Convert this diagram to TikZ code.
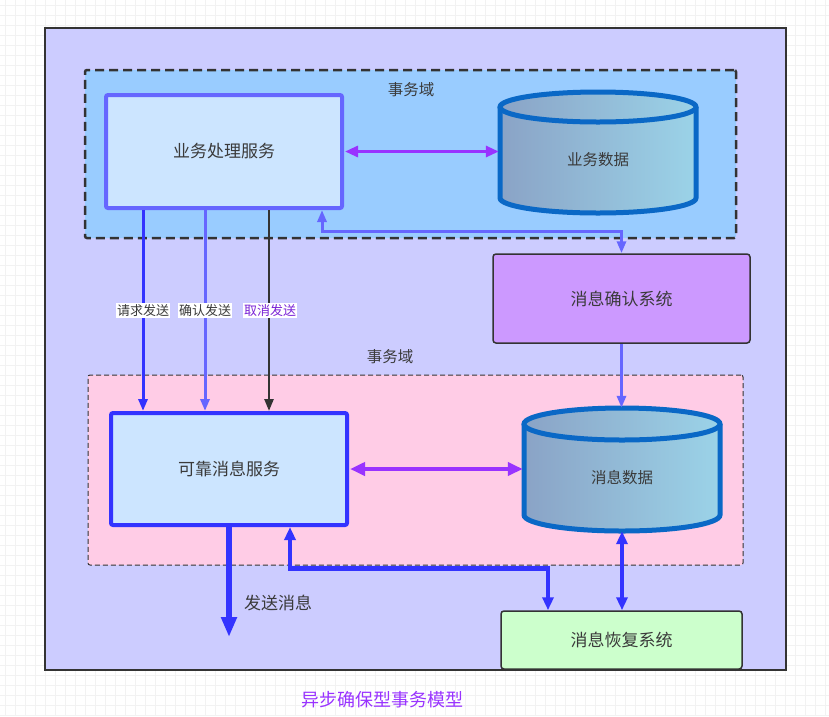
\documentclass[tikz,border=0pt]{standalone}
\usepackage{fontspec}
\setmainfont{Noto Sans CJK SC}
\usetikzlibrary{arrows.meta,calc}
\definecolor{gridc}{HTML}{F2F2F2}
\definecolor{outerfill}{HTML}{CCCCFF}
\definecolor{topdom}{HTML}{99CCFF}
\definecolor{botdom}{HTML}{FFCCE6}
\definecolor{boxfill}{HTML}{CCE5FF}
\definecolor{lblue}{HTML}{6666FF}
\definecolor{dblue}{HTML}{3333FF}
\definecolor{purp}{HTML}{9933FF}
\definecolor{dark}{HTML}{333333}
\definecolor{txt}{HTML}{3A3A3A}
\definecolor{confirmfill}{HTML}{CC99FF}
\definecolor{recoverfill}{HTML}{CCFFCC}
\definecolor{cylborder}{HTML}{0A68C6}
\definecolor{cylleft}{HTML}{8AA3C6}
\definecolor{cylright}{HTML}{9BD3E8}
\definecolor{cancelc}{HTML}{7A22D6}
\tikzset{
  bigtxt/.style={font=\fontsize{17}{20}\selectfont, text=txt},
  midtxt/.style={font=\fontsize{15.5}{18}\selectfont, text=txt},
  smalltxt/.style={font=\fontsize{13}{15}\selectfont, text=txt},
  svcbox/.style={draw, fill=boxfill, line width=4pt, rounded corners=2pt, inner sep=0pt, bigtxt},
  sysbox/.style={draw=dark, line width=1.5pt, rounded corners=3pt, inner sep=0pt, bigtxt},
  lbl/.style={fill=white, inner sep=1pt, smalltxt},
  tip/.style={-{Triangle[length=12pt,width=9pt]}},
  dtip/.style={{Triangle[length=12pt,width=9pt]}-{Triangle[length=12pt,width=9pt]}},
  ttip/.style={{Triangle[length=13pt,width=11pt]}-{Triangle[length=13pt,width=11pt]}},
  bigtip/.style={-{Triangle[length=20pt,width=15pt]}},
}
\begin{document}
\begin{tikzpicture}[x=1pt,y=-1pt]
\useasboundingbox (0,0) rectangle (829,716);
\fill[white] (0,0) rectangle (829,716);
\foreach \gx in {0,10,...,820} {\draw[gridc, line width=0.6pt] (\gx+5,0) -- (\gx+5,716);}
\foreach \gy in {0,10,...,710} {\draw[gridc, line width=0.6pt] (0,\gy+5) -- (829,\gy+5);}

% outer container
\node[draw=dark, fill=outerfill, line width=1.5pt, minimum width=741pt, minimum height=642pt, inner sep=0pt] (outer) at (415.5,349) {};

% transaction domains
\node[draw=dark, fill=topdom, line width=2.5pt, dash pattern=on 9pt off 5pt, rounded corners=2pt, minimum width=651pt, minimum height=168pt, inner sep=0pt] (dom1) at (410.5,154) {};
\node[midtxt] (dom1lbl) at (411,90) {事务域};
\node[draw=dark, fill=botdom, line width=1pt, dash pattern=on 5pt off 3pt, rounded corners=2pt, minimum width=655pt, minimum height=190pt, inner sep=0pt] (dom2) at (415.5,470) {};
\node[midtxt] (dom2lbl) at (390,357) {事务域};

% service boxes
\node[svcbox, draw=lblue, minimum width=236pt, minimum height=113pt] (b1) at (224,151.5) {业务处理服务};
\node[svcbox, draw=dblue, minimum width=236pt, minimum height=112pt] (b2) at (229,469) {可靠消息服务};

% system boxes
\node[sysbox, fill=confirmfill, minimum width=257pt, minimum height=89pt] (c1) at (621.5,298.5) {消息确认系统};
\node[sysbox, fill=recoverfill, minimum width=241pt, minimum height=58pt] (r1) at (621.5,640) {消息恢复系统};

% cylinder 1
\shade[left color=cylleft, right color=cylright] (500,107) -- (500,198) arc[start angle=180, end angle=360, x radius=98pt, y radius=15pt] -- (696,107) arc[start angle=0, end angle=180, x radius=98pt, y radius=15pt] -- cycle;
\draw[cylborder, line width=5pt] (500,107) -- (500,198) arc[start angle=180, end angle=360, x radius=98pt, y radius=15pt] -- (696,107);
\draw[cylborder, line width=5pt, left color=cylleft, right color=cylright] (598,107) ellipse[x radius=98pt, y radius=15pt];
\node[minimum width=196pt, minimum height=121pt, inner sep=0pt] (d1) at (598,152.5) {};
\node[midtxt] (d1t) at (598,160) {业务数据};

% cylinder 2
\shade[left color=cylleft, right color=cylright] (524,424) -- (524,515) arc[start angle=180, end angle=360, x radius=98pt, y radius=16pt] -- (720,424) arc[start angle=0, end angle=180, x radius=98pt, y radius=16pt] -- cycle;
\draw[cylborder, line width=5pt] (524,424) -- (524,515) arc[start angle=180, end angle=360, x radius=98pt, y radius=16pt] -- (720,424);
\draw[cylborder, line width=5pt, left color=cylleft, right color=cylright] (622,424) ellipse[x radius=98pt, y radius=16pt];
\node[minimum width=196pt, minimum height=123pt, inner sep=0pt] (d2) at (622,469.5) {};
\node[midtxt] (d2t) at (622,478) {消息数据};

% purple double arrows
\draw[purp, line width=3pt, ttip] ([xshift=1pt]b1.east) -- ([xshift=-1pt]b1.east -| d1.west);
\draw[purp, line width=4.5pt, {Triangle[length=15pt,width=13pt]}-{Triangle[length=15pt,width=13pt]}] ([xshift=1pt]b2.east) -- ([xshift=-1pt]b2.east -| d2.west);

% three request arrows
\draw[dblue, line width=3pt, tip] ([xshift=-81pt]b1.south) -- ([xshift=-81pt]b1.south |- b2.north) node[lbl, pos=0.5] {请求发送};
\draw[lblue, line width=3pt, tip] ([xshift=-19pt]b1.south) -- ([xshift=-19pt]b1.south |- b2.north) node[lbl, pos=0.5] {确认发送};
\draw[dark, line width=2.5pt, tip] ([xshift=45pt]b1.south) -- ([xshift=45pt]b1.south |- b2.north) node[lbl, pos=0.5, text=cancelc, xshift=1pt] {取消发送};

% confirm system connections
\draw[lblue, line width=3pt, dtip] (c1.north) -- ++(0,-22) -| ([xshift=98pt]b1.south);
\draw[lblue, line width=3pt, tip] (c1.south) -- (c1.south |- d2.north);

% recovery system connections
\draw[dblue, line width=4.5pt, ttip] ([xshift=-73.5pt]r1.north) -- ++(0,-42) -| ([xshift=61pt]b2.south);
\draw[dblue, line width=4.5pt, ttip] (d2.south) -- (d2.south |- r1.north);

% send message
\coordinate (sendend) at (229,637);
\draw[dblue, line width=6.5pt, bigtip] (b2.south) -- (sendend);
\node[bigtxt] (sendlbl) at (278,603) {发送消息};

% title
\node[font=\fontsize{18}{21}\selectfont, text=purp] (title) at (382,700) {异步确保型事务模型};
\end{tikzpicture}
\end{document}
